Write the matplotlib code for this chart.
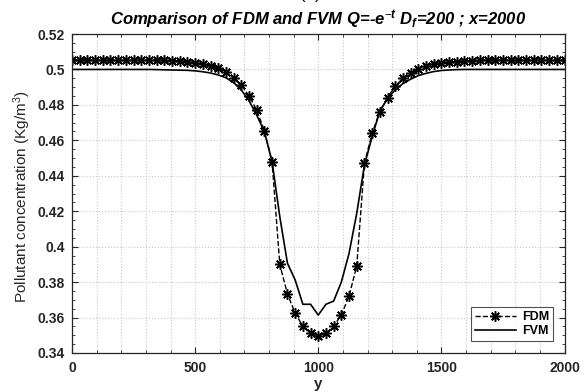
import numpy as np
import matplotlib
matplotlib.use("Agg")
import matplotlib.pyplot as plt
from matplotlib.ticker import MultipleLocator

plt.rcParams['font.family'] = ['Liberation Sans', 'DejaVu Sans']
plt.rcParams['mathtext.fontset'] = 'custom'
plt.rcParams['mathtext.rm'] = 'Liberation Sans'
plt.rcParams['mathtext.it'] = 'Liberation Sans:italic:bold'
plt.rcParams['mathtext.bf'] = 'Liberation Sans:bold'

# mesh along y (65 nodes, 0..2000)
y_nodes = np.linspace(0, 2000, 65)

fdm = [0.5053] * 12 + [
    0.5052, 0.5050, 0.5048, 0.5044, 0.5038, 0.5031, 0.5021, 0.5006, 0.4984,
    0.4953, 0.4912, 0.4850, 0.4771, 0.4654, 0.4479, 0.3900, 0.3733, 0.3624,
    0.3552, 0.3511, 0.3497, 0.3511, 0.3552, 0.3614, 0.3721, 0.3891, 0.4470,
    0.4640, 0.4762, 0.4841, 0.4907, 0.4950, 0.4978, 0.5003, 0.5021, 0.5031,
    0.5038, 0.5042, 0.5044, 0.5047, 0.5049, 0.5051, 0.5052,
] + [0.5053] * 10

fvm = [0.5000] * 11 + [
    0.4999, 0.4998, 0.4997, 0.4996, 0.4995, 0.4992, 0.4987, 0.4980, 0.4969,
    0.4953, 0.4926, 0.4884, 0.4824, 0.4743, 0.4648, 0.4480, 0.4170, 0.3906,
    0.3812, 0.3675, 0.3675, 0.3614, 0.3675, 0.3693, 0.3800, 0.3962, 0.4188,
    0.4460, 0.4620, 0.4765, 0.4835, 0.4886, 0.4920, 0.4945, 0.4965, 0.4978,
    0.4988, 0.4994, 0.4997, 0.4999,
] + [0.5000] * 14

labels = ["FDM", "FVM"]
dark = '#262626'

fig = plt.figure(figsize=(5.88, 3.92), dpi=100)
ax = fig.add_axes([72 / 588, 1 - 353 / 392, 492.5 / 588, 319 / 392])

ax.plot(y_nodes, fdm, color='black', linestyle='--', linewidth=1.0,
        marker=(8, 2, 0), markersize=7.5, markeredgewidth=1.1, label=labels[0])
ax.plot(y_nodes, fvm, color='black', linestyle='-', linewidth=1.2, label=labels[1])

ax.set_xlim(0, 2000)
ax.set_ylim(0.34, 0.52)
ax.xaxis.set_major_locator(MultipleLocator(500))
ax.xaxis.set_minor_locator(MultipleLocator(100))
ax.yaxis.set_minor_locator(MultipleLocator(0.005))
ax.set_yticks(np.arange(0.34, 0.5201, 0.02))
ax.set_yticklabels(['0.34', '0.36', '0.38', '0.4', '0.42', '0.44', '0.46', '0.48', '0.5', '0.52'])

ax.grid(True, which='major', linestyle=':', color='#c8c8c8', linewidth=0.8)
ax.grid(True, which='minor', axis='x', linestyle=':', color='#c8c8c8', linewidth=0.8)

ax.tick_params(which='both', direction='in', top=True, right=True, colors=dark)
ax.tick_params(which='major', length=4, width=0.8, labelsize=10)
ax.tick_params(axis='x', which='major', pad=6)
ax.tick_params(axis='y', which='major', pad=5)
ax.tick_params(which='minor', length=2, width=0.6)
for lab in ax.get_xticklabels() + ax.get_yticklabels():
    lab.set_fontweight('bold')
for sp in ax.spines.values():
    sp.set_color(dark)
    sp.set_linewidth(0.9)

ax.set_xlabel('y', fontsize=11, fontweight='bold', color=dark, va='center')
ax.xaxis.set_label_coords(0.5, -0.097)
ax.set_ylabel('Pollutant concentration (Kg/m$^3$)', fontsize=11, color=dark)
ax.yaxis.set_label_coords(-0.079, 0.49)
ax.set_title(r'Comparison of FDM and FVM Q=-e$^{\mathit{-t}}$ D$_{\mathit{f}}$=200 ; x=2000',
             fontsize=12, fontweight='bold', fontstyle='italic', pad=6)

fig.text(0.527, 1.003, '(a)', fontsize=12, ha='center', va='baseline')

leg = ax.legend(loc='lower right', bbox_to_anchor=(0.977, 0.037), borderaxespad=0,
                fancybox=False, handlelength=3.3, labelspacing=0.2,
                prop={'weight': 'bold', 'size': 9}, borderpad=0.3, handletextpad=0.5)
leg.get_frame().set_edgecolor(dark)
leg.get_frame().set_linewidth(0.8)

fig.savefig('out.png', dpi=100)
